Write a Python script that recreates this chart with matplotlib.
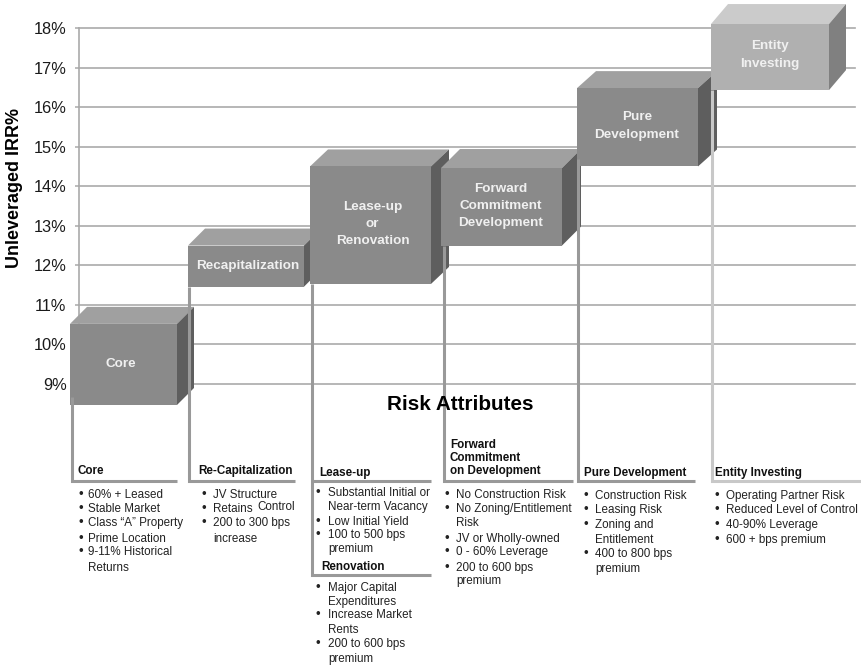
import matplotlib
matplotlib.use('Agg')
from matplotlib import pyplot as plt
from matplotlib.patches import Polygon

plt.rcParams['font.family'] = ['Liberation Sans', 'DejaVu Sans']

# IRR ranges
names = ['Core', 'Recapitalization', 'Lease-up\nor\nRenovation',
         'Forward\nCommitment\nDevelopment', 'Pure\nDevelopment', 'Entity\nInvesting']
irr_low = [8.47, 11.46, 11.53, 12.5, 14.5, 16.43]
irr_high = [10.52, 12.5, 14.5, 14.46, 16.48, 18.1]
irr_ticks = [9, 10, 11, 12, 13, 14, 15, 16, 17, 18]
y_title = 'Unleveraged IRR%'
section_title = 'Risk Attributes'

core_lines = ['60% + Leased', 'Stable Market', 'Class “A” Property', 'Prime Location',
              '9-11% Historical', 'Returns']
recap_lines = ['JV Structure', 'Retains', '200 to 300 bps', 'increase']
leaseup_lines = ['Substantial Initial or', 'Near-term Vacancy', 'Low Initial Yield',
                 '100 to 500 bps', 'premium']
renovation_lines = ['Major Capital', 'Expenditures', 'Increase Market', 'Rents',
                    '200 to 600 bps', 'premium']
forward_lines = ['No Construction Risk', 'No Zoning/Entitlement', 'Risk', 'JV or Wholly-owned',
                 '0 - 60% Leverage', '200 to 600 bps', 'premium']
pure_lines = ['Construction Risk', 'Leasing Risk', 'Zoning and', 'Entitlement',
              '400 to 800 bps', 'premium']
entity_lines = ['Operating Partner Risk', 'Reduced Level of Control', '40-90% Leverage',
                '600 + bps premium']

# layout, in pixels of the 861x667 picture
W, H = 861, 667
px = 1 / 100
GRID_L, GRID_R, Y18, Y9 = 79, 855, 28, 384
box_x0 = [70, 188, 310, 441, 577, 711]
box_x1 = [177, 304, 431, 562, 698, 829]
box_dx = [17, 17, 18, 19, 19, 17]
box_dy = [17, 17, 17, 19, 17, 20]
label_x = [121, 248, 372.5, 501, 637, 770]
label_y = [364, 266, 224, 206, 126, 55]
dark = ('#8a8a8a', '#a0a0a0', '#5e5e5e')
light = ('#b0b0b0', '#cbcbcb', '#808080')

def irr_px(v):
    return Y18 + (18 - v) * (Y9 - Y18) / 9

fig = plt.figure(figsize=(W * px, H * px), dpi=100)
ax = fig.add_axes([GRID_L / W, 1 - Y9 / H, (GRID_R - GRID_L) / W, (Y9 - Y18) / H])
ax.set_xlim(GRID_L, GRID_R)
ax.set_ylim(9, 18)
ax.set_yticks(irr_ticks)
ax.set_yticklabels(['{}%'.format(t) for t in irr_ticks], fontsize=11.8, color='#1a1a1a')
ax.set_xticks([])
ax.tick_params(axis='y', length=3, width=1.1, color='#aaaaaa', pad=6)
ax.yaxis.grid(True, color='#aaaaaa', lw=1.2, clip_on=False)
for gl in ax.get_ygridlines():
    gl.set_clip_on(False)
ax.set_axisbelow(True)
for s in ['top', 'right', 'bottom']:
    ax.spines[s].set_visible(False)
ax.spines['left'].set_color('#aaaaaa')
ax.spines['left'].set_linewidth(1.2)

# overlay in picture pixels for leaders and notes
ov = fig.add_axes([0, 0, 1, 1], facecolor='none')
ov.set_xlim(0, W)
ov.set_ylim(H, 0)
ov.axis('off')

# boxes
for i in range(6):
    x0, x1, dx = box_x0[i], box_x1[i], box_dx[i]
    lo, hi = irr_low[i], irr_high[i]
    dv = box_dy[i] * 9 / (Y9 - Y18)
    front, top, side = light if i == 5 else dark
    z = 3 + i
    ax.add_patch(Polygon([(x0, hi), (x0 + dx, hi + dv), (x1 + dx, hi + dv), (x1, hi)],
                         fc=top, ec='none', clip_on=False, zorder=z))
    ax.add_patch(Polygon([(x1, lo), (x1 + dx, lo + dv), (x1 + dx, hi + dv), (x1, hi)],
                         fc=side, ec='none', clip_on=False, zorder=z))
    ax.add_patch(Polygon([(x0, lo), (x1, lo), (x1, hi), (x0, hi)],
                         fc=front, ec='none', clip_on=False, zorder=z))
    ax.text(label_x[i], 18 - (label_y[i] - Y18) * 9 / (Y9 - Y18), names[i], color='#f0f0f0',
            fontsize=9.7, fontweight='bold', ha='center', va='center', linespacing=1.56,
            clip_on=False, zorder=20)

# leaders
RULE = 481
leader_x = [71.5, 188.5, 312, 444, 578, 711.5]
leader_end = [177, 295, 431, 573, 695, 861]
leader_top = [397, irr_px(irr_low[1]), irr_px(irr_low[2]), irr_px(irr_low[3]), 159, irr_px(irr_low[5])]
for i in range(6):
    col = '#c8c8c8' if i == 5 else '#999999'
    bottom = 575 if i == 2 else RULE
    end = leader_end[i]
    ov.plot([leader_x[i], leader_x[i], end], [leader_top[i], bottom, bottom], color=col, lw=2.2,
            solid_capstyle='butt', solid_joinstyle='miter')
ov.plot([312, 431], [RULE, RULE], color='#999999', lw=2.2, solid_capstyle='butt')

ov.text(15, 188, y_title, rotation=90, fontsize=12.9, fontweight='bold', ha='center', va='center')
ov.text(460, 404, section_title, fontsize=14.9, fontweight='bold', ha='center', va='center')

def head(x, y, s):
    ov.text(x, y, s, fontsize=8.4, fontweight='bold', color='#111111', ha='left', va='center')

def bullets(xb, xt, ys, lines, marks):
    for y, s, m in zip(ys, lines, marks):
        if m:
            ov.text(xb, y, '•', fontsize=9.5, color='#222222', ha='center', va='center')
        ov.text(xt, y, s, fontsize=8.35, color='#222222', ha='left', va='center')

head(77, 471, 'Core')
head(198, 471, 'Re-Capitalization')
head(319, 473, 'Lease-up')
head(321, 567, 'Renovation')
head(450, 445, 'Forward')
head(450, 458, 'Commitment')
head(450, 471, 'on Development')
head(584, 473, 'Pure Development')
head(715, 473, 'Entity Investing')

bullets(81, 88, [495, 509, 523, 539, 552, 568], core_lines, [1, 1, 1, 1, 1, 0])
bullets(204, 213, [495, 509, 523, 539], recap_lines, [1, 1, 1, 0])
ov.text(257, 507, 'Control', fontsize=8.35, color='#222222', ha='left', va='center')
bullets(318, 328, [493, 507, 522, 535, 549], leaseup_lines, [1, 0, 1, 1, 0])
bullets(318, 328, [588, 602, 615, 630, 644, 659], renovation_lines, [1, 0, 1, 0, 1, 0])
bullets(447, 456, [495, 509, 523, 539, 552, 568, 581], forward_lines, [1, 1, 0, 1, 1, 1, 0])
bullets(586, 595, [496, 510, 525, 540, 554, 569], pure_lines, [1, 1, 1, 0, 1, 0])
bullets(717, 726, [496, 510, 525, 540], entity_lines, [1, 1, 1, 1])

fig.savefig('out.png', dpi=100)
